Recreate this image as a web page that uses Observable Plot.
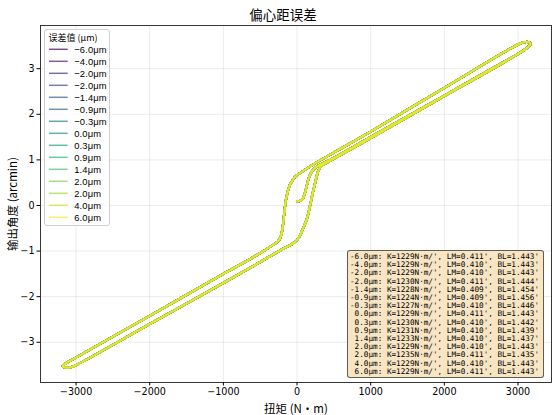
<!DOCTYPE html>
<html>
<head>
<meta charset="utf-8">
<script src="https://cdn.jsdelivr.net/npm/d3@7"></script>
<script src="https://cdn.jsdelivr.net/npm/@observablehq/plot@0.6"></script>
<style>
  html, body { margin: 0; padding: 0; background: #fff; }
  #wrap { position: relative; width: 552px; height: 415px; }
  #legend { position: absolute; left: 44px; top: 29px; width: 66px; height: 197px;
    background: rgba(255,255,255,0.8); border: 1px solid #d0d0d0; border-radius: 3px; box-sizing: border-box; }
  #box { position: absolute; left: 347px; top: 250px; width: 197px; height: 128px; box-sizing: border-box;
    background: #f7e5c3; border: 1px solid rgba(0,0,0,0.6); border-radius: 3px;
    font-family: "DejaVu Sans Mono", monospace; font-size: 7.67px; line-height: 8.2px; padding: 2px 0 0 2px; white-space: pre; color: #000; }
</style>
</head>
<body>
<div id="wrap"></div>
<script>
// ---- data ----
const errors = [-6.0, -4.0, -2.0, -2.0, -1.4, -0.9, -0.3, 0.0, 0.3, 0.9, 1.4, 2.0, 2.0, 4.0, 6.0];
const K  = [1229, 1229, 1229, 1230, 1228, 1224, 1227, 1229, 1230, 1231, 1233, 1229, 1235, 1229, 1229];
const LM = [0.411, 0.410, 0.410, 0.411, 0.409, 0.409, 0.410, 0.411, 0.410, 0.410, 0.410, 0.410, 0.411, 0.410, 0.411];
const BL = [1.443, 1.443, 1.443, 1.444, 1.454, 1.456, 1.446, 1.443, 1.442, 1.439, 1.437, 1.443, 1.435, 1.443, 1.443];

// hysteresis loop (torque N·m, output angle arcmin)
const torque = [
  0, 40, 75, 105, 130, 160, 200, 260, 330, 450,
  1000, 2000, 2800, 3050, 3130, 3165,
  3170, 3150, 3080, 3000,
  2000, 1000, 500, 200, 50, -20, -60, -100, -130, -155, -175, -195, -220, -260, -350, -600,
  -1000, -2000, -2800, -3050, -3140, -3175,
  -3180, -3150, -3080, -3000,
  -2000, -1000, -500, -200, -60, 0, 40, 70, 110, 150, 180, 210, 240, 270, 300, 340, 450,
  1000, 2000, 2800, 3100, 3165
];
const angle = [
  0.09, 0.10, 0.14, 0.26, 0.42, 0.60, 0.74, 0.84, 0.91, 1.00,
  1.50, 2.41, 3.14, 3.37, 3.46, 3.52,
  3.55, 3.58, 3.58, 3.53,
  2.58, 1.62, 1.16, 0.88, 0.72, 0.64, 0.55, 0.44, 0.28, 0.08, -0.20, -0.48, -0.68, -0.79, -0.89, -1.14,
  -1.50, -2.42, -3.15, -3.38, -3.46, -3.50,
  -3.53, -3.55, -3.55, -3.50,
  -2.60, -1.70, -1.24, -0.96, -0.84, -0.76, -0.66, -0.55, -0.40, -0.20, 0.02, 0.25, 0.45, 0.66, 0.80, 0.88, 0.98,
  1.48, 2.40, 3.13, 3.43, 3.52
];
const xTicks = [-3000, -2000, -1000, 0, 1000, 2000, 3000];
const yTicks = [-3, -2, -1, 0, 1, 2, 3];

const fmtErr = (e) => (e < 0 ? "\u2212" : "") + Math.abs(e).toFixed(1) + "\u03bcm";
const rows = [];
errors.forEach((e, s) => torque.forEach((t, j) => rows.push({series: s, torque: t, angle: angle[j]})));
const seriesIdx = d3.range(errors.length);
const colors = d3.quantize(d3.interpolateViridis, errors.length);
const minus = (d) => d < 0 ? "\u2212" + Math.abs(d) : String(d);
const cjk = "'Noto Sans CJK SC', 'Noto Sans', sans-serif";

const plot = Plot.plot({
  width: 552, height: 415,
  marginLeft: 40, marginRight: 1, marginTop: 25, marginBottom: 33,
  style: {fontFamily: "'DejaVu Sans', sans-serif", fontSize: "9.6px", background: "white", color: "#000"},
  x: {domain: [-3483, 3455], label: null},
  y: {domain: [-3.882, 3.947], label: null},
  color: {type: "ordinal", domain: seriesIdx, range: colors},
  marks: [
    Plot.gridX(xTicks, {stroke: "#b0b0b0", strokeOpacity: 0.3, strokeWidth: 0.8}),
    Plot.gridY(yTicks, {stroke: "#b0b0b0", strokeOpacity: 0.3, strokeWidth: 0.8}),
    Plot.line(rows, {x: "torque", y: "angle", z: "series", stroke: "series", strokeWidth: 2.2, strokeOpacity: 0.7, curve: "catmull-rom"}),
    Plot.frame({stroke: "#222", strokeWidth: 0.9}),
    Plot.axisX(xTicks, {tickSize: 3.5, tickPadding: 2.5, tickFormat: minus, label: null}),
    Plot.axisY(yTicks, {tickSize: 3.5, tickPadding: 2.5, tickFormat: minus, label: null}),
    Plot.text(["偏心距误差"], {frameAnchor: "top", dy: -10, dx: -13, fontSize: 13.5, fontFamily: cjk, lineAnchor: "middle"}),
    Plot.text(["扭矩 (N·m)"], {frameAnchor: "bottom", dy: 27, fontSize: 11.5, fontFamily: cjk, lineAnchor: "middle"}),
    Plot.text(["输出角度 (arcmin)"], {frameAnchor: "left", dx: -27, rotate: -90, textAnchor: "middle", lineAnchor: "middle", fontSize: 11.5, fontFamily: cjk})
  ]
});
const wrap = document.getElementById("wrap");
wrap.appendChild(plot);

// legend
const color = plot.scale("color");
const leg = d3.select(wrap).append("div").attr("id", "legend")
  .append("svg").attr("width", 66).attr("height", 197).style("position", "absolute").style("left", "-1px").style("top", "-1px");
leg.append("text").attr("x", 4.5).attr("y", 8.8).attr("dy", "0.35em")
  .style("font-family", cjk).style("font-size", "9px").text("误差值 (μm)");
seriesIdx.forEach((s) => {
  const y = 20.3 + 12 * s;
  leg.append("line").attr("x1", 5).attr("x2", 23.7).attr("y1", y).attr("y2", y)
    .attr("stroke", color.apply(s)).attr("stroke-width", 1.5).attr("stroke-opacity", 0.7);
  leg.append("text").attr("x", 30.3).attr("y", y).attr("dy", "0.35em")
    .style("font-family", "'Liberation Sans', sans-serif").style("font-size", "9.4px").style("letter-spacing", "0.1px").text(fmtErr(errors[s]));
});

// stats box
const lines = seriesIdx.map((s) => {
  const e = errors[s];
  const lab = (e < 0 ? "-" : " ") + Math.abs(e).toFixed(1);
  return `${lab}\u03bcm: K=${K[s]}N\u00b7m/', LM=${LM[s].toFixed(3)}', BL=${BL[s].toFixed(3)}'`;
});
d3.select(wrap).append("div").attr("id", "box").text(lines.join("\n"));
</script>
</body>
</html>
